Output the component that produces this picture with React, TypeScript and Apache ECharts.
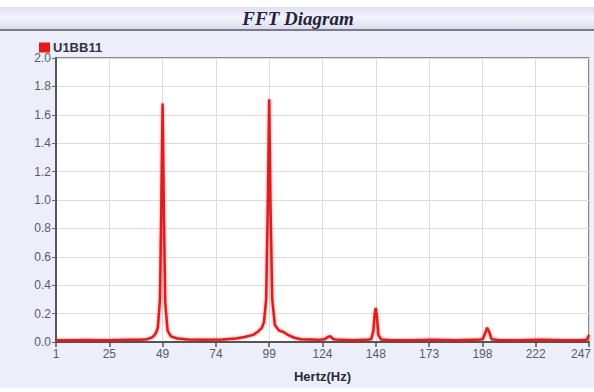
import React, { useEffect, useRef } from "react";
import * as echarts from "echarts";

const seriesName = "U1BB11";
const titleText = "FFT Diagram";
const xAxisName = "Hertz(Hz)";

// tick positions along the frequency axis and the labels the original shows there
const xTickPos = [1, 25.6, 50.2, 74.8, 99.4, 124, 148.6, 173.2, 197.8, 222.4, 247];
const xTickLabels = ["1", "25", "49", "74", "99", "124", "148", "173", "198", "222", "247"];

const hz = [
  1, 5, 10, 15, 20, 25, 30, 35, 40, 43, 45, 46, 47, 48, 49, 49.6, 50.2, 50.8, 51.4, 52.5,
  54, 57, 62, 70, 78, 84, 88, 92, 94, 96, 97, 98, 98.8, 99.4, 100, 100.8, 102, 104, 106, 108,
  111, 114, 118, 122, 125, 126.5, 127.7, 129, 132, 138, 144, 146.5, 147.5, 148.1, 148.6, 149.1,
  149.8, 151, 156, 165, 175, 185, 195, 198, 199, 200, 201, 202, 206, 215, 225, 235, 243, 246, 247,
];
const amp = [
  0.012, 0.013, 0.012, 0.014, 0.012, 0.013, 0.014, 0.015, 0.016, 0.02, 0.03, 0.04, 0.06, 0.1, 0.3, 0.95, 1.68, 0.9, 0.28, 0.08,
  0.04, 0.025, 0.018, 0.015, 0.018, 0.025, 0.035, 0.05, 0.07, 0.1, 0.14, 0.3, 1.0, 1.71, 0.95, 0.3, 0.12, 0.08, 0.07, 0.05,
  0.03, 0.02, 0.018, 0.015, 0.02, 0.035, 0.04, 0.02, 0.015, 0.012, 0.015, 0.02, 0.08, 0.2, 0.24, 0.18,
  0.05, 0.018, 0.012, 0.012, 0.015, 0.012, 0.015, 0.02, 0.06, 0.1, 0.07, 0.02, 0.012, 0.012, 0.015, 0.012, 0.012, 0.015, 0.05,
];

const FONT = "'Liberation Sans', Arial, sans-serif";

export default function App() {
  const ref = useRef<HTMLDivElement>(null);
  useEffect(() => {
    if (!ref.current) return;
    const chart = echarts.init(ref.current, null, { renderer: "svg" });
    const data = hz.map((h, i) => [h, amp[i]]);
    const lastIdx = xTickLabels.length - 1;
    chart.setOption({
      animation: false,
      backgroundColor: "#ffffff",
      graphic: [
        {
          type: "rect",
          z: -10,
          silent: true,
          shape: { x: 0, y: 30, width: 594, height: 358 },
          style: { fill: "#eceef9" },
        },
        {
          type: "rect",
          z: -9,
          silent: true,
          shape: { x: 0, y: 7, width: 594, height: 22 },
          style: {
            fill: new echarts.graphic.LinearGradient(0, 0, 0, 1, [
              { offset: 0, color: "#dfe1f1" },
              { offset: 0.5, color: "#f3f3fb" },
              { offset: 1, color: "#dadcee" },
            ]),
          },
        },
        {
          type: "rect",
          z: -8,
          silent: true,
          shape: { x: 0, y: 29, width: 594, height: 2 },
          style: { fill: "#7a7b88" },
        },
        {
          type: "text",
          z: 10,
          x: 298,
          y: 18,
          style: {
            text: titleText,
            fill: "#23233a",
            font: "italic bold 19px 'Liberation Serif', serif",
            align: "center",
            verticalAlign: "middle",
          },
        },
      ],
      legend: {
        data: [seriesName],
        left: 39,
        top: 41,
        icon: "rect",
        itemWidth: 11,
        itemHeight: 10,
        itemGap: 4,
        padding: 0,
        textStyle: {
          color: "#333344",
          fontWeight: "bold",
          fontSize: 13,
          fontFamily: FONT,
          padding: [0, 0, 0, -2],
        },
      },
      grid: {
        left: 56,
        right: 5,
        top: 58,
        bottom: 50,
        outerBoundsMode: "none",
        containLabel: false,
        show: true,
        backgroundColor: "#ffffff",
        borderColor: "#666666",
        borderWidth: 1.5,
      },
      xAxis: {
        type: "value",
        min: 1,
        max: 247,
        name: xAxisName,
        nameLocation: "middle",
        nameGap: 28,
        nameTextStyle: {
          color: "#2a2a3a",
          fontWeight: "bold",
          fontSize: 13,
          fontFamily: FONT,
        },
        axisLine: { show: true, lineStyle: { color: "#555555", width: 2 } },
        axisTick: {
          show: true,
          length: 5,
          customValues: xTickPos,
          lineStyle: { color: "#555555", width: 1.5 },
        },
        axisLabel: {
          customValues: xTickPos,
          color: "#5a5a66",
          fontSize: 12,
          margin: 6,
          fontFamily: FONT,
          hideOverlap: false,
          formatter: (v: number) => {
            const i = xTickPos.findIndex((p) => Math.abs(p - v) < 0.01);
            if (i < 0) return "";
            return i === lastIdx ? "{last|" + xTickLabels[i] + "}" : xTickLabels[i];
          },
          rich: {
            last: {
              color: "#5a5a66",
              fontSize: 12,
              fontFamily: FONT,
              padding: [0, 16, 0, 0],
            },
          },
        },
        splitLine: { show: true, lineStyle: { color: "#dcdcdc", width: 1 } },
      },
      yAxis: {
        type: "value",
        min: 0,
        max: 2,
        interval: 0.2,
        axisLine: { show: true, lineStyle: { color: "#555555", width: 2 } },
        axisTick: { show: true, length: 4, lineStyle: { color: "#666666" } },
        axisLabel: {
          color: "#5a5a66",
          fontSize: 12,
          margin: 5,
          fontFamily: FONT,
          formatter: (v: number) => v.toFixed(1),
        },
        splitLine: { show: true, lineStyle: { color: "#dcdcdc", width: 1 } },
      },
      series: [
        {
          name: seriesName,
          type: "line",
          data,
          showSymbol: false,
          symbol: "none",
          color: "#e31b1b",
          lineStyle: {
            color: "#e01c1c",
            width: 2.5,
            shadowColor: "rgba(220,30,30,0.45)",
            shadowBlur: 3,
          },
        },
      ],
    });
    return () => chart.dispose();
  }, []);
  return (
    <div
      ref={ref}
      style={{ position: "absolute", left: 0, top: 0, width: 594, height: 392 }}
    />
  );
}
